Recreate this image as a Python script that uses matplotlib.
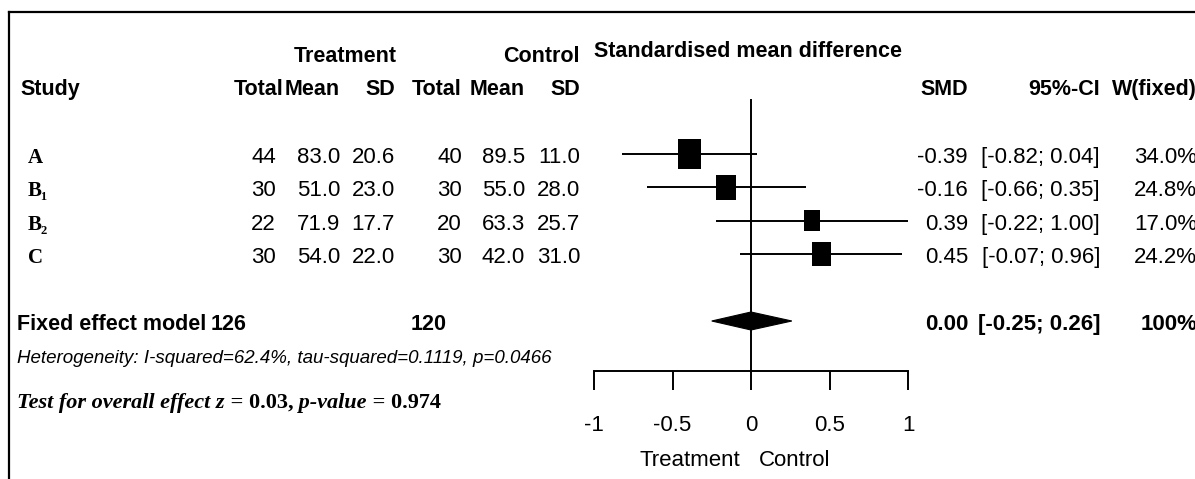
import matplotlib
matplotlib.use('Agg')
import numpy as np
import matplotlib.pyplot as plt
from matplotlib.patches import Rectangle, Polygon
from matplotlib.lines import Line2D


# study data
studies = ['A', 'B\u2081', 'B\u2082', 'C']
trt_total = [44, 30, 22, 30]
trt_mean = [83.0, 51.0, 71.9, 54.0]
trt_sd = [20.6, 23.0, 17.7, 22.0]
ctl_total = [40, 30, 20, 30]
ctl_mean = [89.5, 55.0, 63.3, 42.0]
ctl_sd = [11.0, 28.0, 25.7, 31.0]
smd = [-0.39, -0.16, 0.39, 0.45]
ci_lo = [-0.82, -0.66, -0.22, -0.07]
ci_hi = [0.04, 0.35, 1.00, 0.96]
weight = [34.0, 24.8, 17.0, 24.2]

# fixed effect summary
fixed_trt_total = 126
fixed_ctl_total = 120
fixed_smd = 0.00
fixed_lo = -0.25
fixed_hi = 0.26
fixed_weight = 100
heterogeneity = 'Heterogeneity: I-squared=62.4%, tau-squared=0.1119, p=0.0466'
overall_z = 0.03
overall_p = 0.974

xticks = [-1, -0.5, 0, 0.5, 1]
xticklabels = ['-1', '-0.5', '0', '0.5', '1']


W, H = 1195, 479
fig = plt.figure(figsize=(W / 100, H / 100), dpi=100)
fig.patch.set_facecolor('white')

sans = 'Liberation Sans'
serif = ['Liberation Serif', 'DejaVu Serif']
fs = 15.5
fs_data = 16


def put(x, y, s, ha='left', size=fs, weight='normal', style='normal', family=None):
    return fig.text(x / W, 1 - y / H, s, ha=ha, va='baseline', fontsize=size,
                    fontweight=weight, fontstyle=style,
                    family=family if family else sans, color='black')


def chain(x, y, parts, size, family, weight='normal'):
    r = fig.canvas.get_renderer()
    for s, style in parts:
        t = put(x, y, s, size=size, style=style, family=family, weight=weight)
        x += t.get_window_extent(r).width


# frame
fig.add_artist(Line2D([9 / W, 9 / W], [1 - 12 / H, 0], color='black', lw=1.6))
fig.add_artist(Line2D([9 / W, 1], [1 - 12 / H, 1 - 12 / H], color='black', lw=1.6))

# column layout (pixels)
col_right = [276, 340, 395, 462, 525, 580]
smd_right = 968
ci_right = 1100
w_right = 1197
row_base = [163 + 33.3 * i for i in range(len(studies))]
row_mid = [b - 9 for b in row_base]

# headers
put(397, 62, 'Treatment', ha='right', weight='bold')
put(580, 62, 'Control', ha='right', weight='bold')
put(594, 57, 'Standardised mean difference', weight='bold')
put(20, 95, 'Study', weight='bold')
for x, s in zip([283, 340, 395, 462, 525, 580], ['Total', 'Mean', 'SD', 'Total', 'Mean', 'SD']):
    put(x, 95, s, ha='right', weight='bold')
put(smd_right, 95, 'SMD', ha='right', weight='bold')
put(ci_right, 95, '95%-CI', ha='right', weight='bold')
put(1112, 95, 'W(fixed)', weight='bold')

# study rows
for i, name in enumerate(studies):
    y = row_base[i]
    put(28, y, name, size=15, weight='bold', family=serif)
    cells = [f'{trt_total[i]}', f'{trt_mean[i]:.1f}', f'{trt_sd[i]:.1f}',
             f'{ctl_total[i]}', f'{ctl_mean[i]:.1f}', f'{ctl_sd[i]:.1f}']
    for x, s in zip(col_right, cells):
        put(x, y, s, ha='right', size=fs_data)
    put(smd_right, y, f'{smd[i]:.2f}', ha='right', size=fs_data)
    put(ci_right, y, f'[{ci_lo[i]:.2f}; {ci_hi[i]:.2f}]', ha='right', size=fs_data)
    put(w_right, y, f'{weight[i]:.1f}%', ha='right', size=fs_data)

# fixed effect row
fy = 330
put(17, fy, 'Fixed effect model', weight='bold')
put(246, fy, f'{fixed_trt_total}', ha='right', weight='bold')
put(447, fy, f'{fixed_ctl_total}', ha='right', weight='bold')
put(smd_right, fy, f'{fixed_smd:.2f}', ha='right', weight='bold', size=fs_data)
put(ci_right, fy, f'[{fixed_lo:.2f}; {fixed_hi:.2f}]', ha='right', weight='bold', size=fs_data)
put(w_right, fy, f'{fixed_weight}%', ha='right', weight='bold', size=fs_data)

put(17, 363, heterogeneity, size=13.5, style='italic')
chain(17, 408, [('Test for overall effect z', 'italic'), (f' = {overall_z:.2f},', 'normal'),
                (' p-value', 'italic'), (f' = {overall_p:.3f}', 'normal')],
      size=16, family=serif, weight='bold')

# forest panel: x in SMD units, y in pixel rows
ax = fig.add_axes([594 / W, (H - 371) / H, 314 / W, 371 / H])
ax.set_xlim(-1, 1)
ax.set_ylim(371, 0)
ax.patch.set_visible(False)
for side in ['left', 'right', 'top']:
    ax.spines[side].set_visible(False)
ax.spines['bottom'].set_linewidth(1.4)
ax.set_yticks([])
ax.set_xticks(xticks)
ax.set_xticklabels(xticklabels)
ax.tick_params(axis='x', direction='out', length=13.5, width=1.4, pad=18,
               labelsize=fs_data)
for lab in ax.get_xticklabels():
    lab.set_family(sans)

ax.plot([0, 0], [100, 371], color='black', lw=1.4, clip_on=False)
ax.hlines(row_mid, ci_lo, ci_hi, color='black', lw=1.4)
for i in range(len(studies)):
    h = 5.0 * np.sqrt(weight[i])
    w = 0.78 * h / 157
    ax.add_patch(Rectangle((smd[i] - w / 2, row_mid[i] - h / 2), w, h,
                           facecolor='black', edgecolor='none'))
dm = fy - 9
ax.add_patch(Polygon([(fixed_lo, dm), (fixed_smd, dm - 9), (fixed_hi, dm), (fixed_smd, dm + 9)],
                     closed=True, facecolor='black', edgecolor='black', lw=0.8))

put(690, 466, 'Treatment', ha='center', size=fs_data)
put(795, 466, 'Control', ha='center', size=fs_data)

fig.savefig('out.png', dpi=100)
